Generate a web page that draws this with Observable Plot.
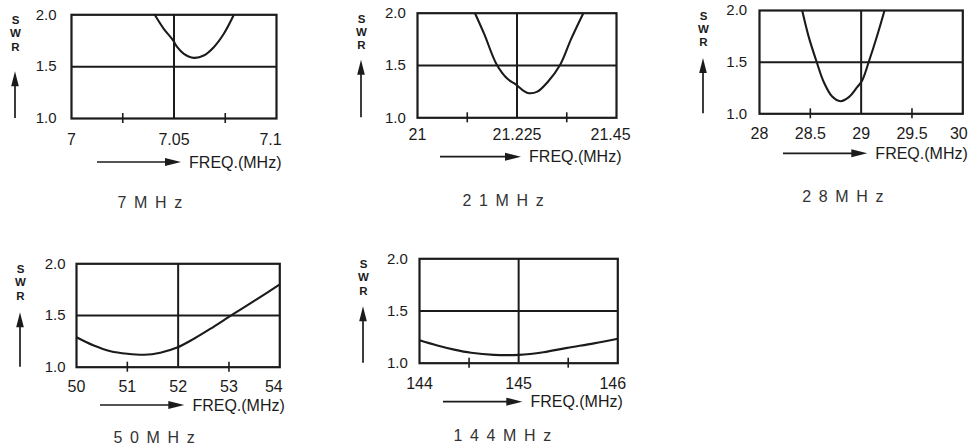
<!DOCTYPE html>
<html><head><meta charset="utf-8">
<script src="https://cdn.jsdelivr.net/npm/d3@7"></script>
<script src="https://cdn.jsdelivr.net/npm/@observablehq/plot@0.6"></script>
<style>
html,body{margin:0;padding:0;background:#fff;}
#chart{position:relative;width:970px;height:446px;overflow:hidden;background:#fff;}
#chart > div{position:absolute;}
#chart svg{overflow:visible;}
</style></head><body><div id="chart"></div>
<script>
// ---------- data ----------
const bandTitles = ["7 M H z", "2 1 M H z", "2 8 M H z", "5 0 M H z", "1 4 4 M H z"];
const swrTicks = [1.0, 1.5, 2.0];
const swrLimit = [1.5];
const swrAxisLabel = "S\nW\nR";
const freqAxisLabel = "FREQ.(MHz)";

const freqLabels7 = [7, 7.05, 7.1];
const minorTicks7 = [7.025, 7.075];
const centre7 = [7.05];
const freq7 = [7.0406, 7.045, 7.0494, 7.0516, 7.0548, 7.0597, 7.0645, 7.0694, 7.0743, 7.0792];
const swr7  = [2.0, 1.865, 1.759, 1.688, 1.624, 1.585, 1.607, 1.688, 1.817, 2.0];

const freqLabels21 = [21, 21.225, 21.45];
const minorTicks21 = [21.1125, 21.3375];
const centre21 = [21.225];
const freq21 = [21.130, 21.151, 21.179, 21.204, 21.222, 21.241, 21.252, 21.271, 21.294, 21.323, 21.347, 21.375];
const swr21  = [2.0, 1.80, 1.51, 1.37, 1.32, 1.255, 1.235, 1.25, 1.34, 1.51, 1.75, 2.0];

const freqLabels28 = [28, 28.5, 29, 29.5, 30];
const minorTicks28 = [28.5, 29.5];
const centre28 = [29];
const freq28 = [28.42, 28.485, 28.561, 28.633, 28.715, 28.797, 28.879, 28.961, 29.01, 29.076, 29.158, 29.23];
const swr28  = [2.0, 1.742, 1.506, 1.306, 1.167, 1.122, 1.161, 1.258, 1.322, 1.506, 1.758, 2.0];

const freqLabels50 = [50, 51, 52, 53, 54];
const minorTicks50 = [51, 53];
const centre50 = [52];
const freq50 = [50, 50.34, 50.67, 51.0, 51.33, 51.65, 51.98, 52.31, 52.63, 53.09, 53.56, 54];
const swr50  = [1.29, 1.21, 1.155, 1.13, 1.12, 1.14, 1.19, 1.275, 1.37, 1.515, 1.66, 1.80];

const freqLabels144 = [144, 145, 146];
const minorTicks144 = [144.5, 145.5];
const centre144 = [145];
const freq144 = [144, 144.18, 144.35, 144.52, 144.75, 145, 145.25, 145.49, 145.76, 146];
const swr144  = [1.22, 1.17, 1.13, 1.10, 1.08, 1.08, 1.105, 1.147, 1.19, 1.234];

// ---------- layout / style ----------
const INK = "#1b1b1b";
const FONT = "'Liberation Sans', Arial, Helvetica, sans-serif";
const layout = [
  {left:0,     top:0,   w:301,   h:225, ml:71, mr:25,  mt:14.3, mb:107,   xPad:15, yPad:15,   endDx:-6, vTip:57, hy:44,   hStart:26, tdx:46,   tdy:84},
  {left:345.7, top:0,   w:295,   h:225, ml:71, mr:25,  mt:12.7, mb:107.7, xPad:11, yPad:11.7, endDx:-6, vTip:47, hy:39.4, hStart:23, tdx:45,   tdy:82.7},
  {left:688,   top:0,   w:282,   h:225, ml:71, mr:7.7, mt:10,   mb:111.7, xPad:14, yPad:12.3, endDx:-4, vTip:48, hy:40,   hStart:24, tdx:42.7, tdy:83.4},
  {left:5,     top:225, w:299.3, h:221, ml:71, mr:25,  mt:38.3, mb:79.3,  xPad:13, yPad:11,   endDx:-6, vTip:49, hy:38.3, hStart:24, tdx:37,   tdy:70.5},
  {left:348,   top:225, w:294.3, h:221, ml:71, mr:25,  mt:33.3, mb:83.3,  xPad:14, yPad:11.7, endDx:-5, vTip:48, hy:39,   hStart:24, tdx:34,   tdy:72.5}
];
const bands = [
  {labels: freqLabels7,   minor: minorTicks7,   centre: centre7,   freq: freq7,   swr: swr7},
  {labels: freqLabels21,  minor: minorTicks21,  centre: centre21,  freq: freq21,  swr: swr21},
  {labels: freqLabels28,  minor: minorTicks28,  centre: centre28,  freq: freq28,  swr: swr28},
  {labels: freqLabels50,  minor: minorTicks50,  centre: centre50,  freq: freq50,  swr: swr50},
  {labels: freqLabels144, minor: minorTicks144, centre: centre144, freq: freq144, swr: swr144}
];

// decorative arrows drawn relative to the frame
function arrows(L) {
  return (index, scales, values, dims) => {
    const g = d3.create("svg:g").attr("fill", INK).attr("stroke", INK);
    const Lx = dims.marginLeft, T = dims.marginTop;
    const B = dims.height - dims.marginBottom, R = dims.width - dims.marginRight;
    const vx = Lx - 56, tip = T + L.vTip;
    g.append("line").attr("x1", vx).attr("x2", vx).attr("y1", B).attr("y2", tip + 8).attr("stroke-width", 1.7);
    g.append("path").attr("stroke", "none")
      .attr("d", `M${vx},${tip}L${vx - 3.8},${tip + 15}L${vx + 3.8},${tip + 15}Z`);
    const hy = B + L.hy, htip = R - 95;
    g.append("line").attr("x1", Lx + L.hStart).attr("x2", htip - 8).attr("y1", hy).attr("y2", hy).attr("stroke-width", 1.7);
    g.append("path").attr("stroke", "none")
      .attr("d", `M${htip},${hy}L${htip - 16},${hy - 4}L${htip - 16},${hy + 4}Z`);
    return g.node();
  };
}

const chart = document.getElementById("chart");
bands.forEach((b, i) => {
  const L = layout[i];
  const frameH = L.h - L.mt - L.mb;
  const pts = b.freq.map((f, j) => ({f, s: b.swr[j]}));
  const inner = b.labels.slice(0, -1);
  const last = b.labels.slice(-1);
  const plot = Plot.plot({
    width: L.w, height: L.h,
    marginLeft: L.ml, marginRight: L.mr, marginTop: L.mt, marginBottom: L.mb,
    style: {fontFamily: FONT, fontSize: "16px", color: INK, background: "transparent", overflow: "visible"},
    x: {domain: [b.labels[0], b.labels[b.labels.length - 1]]},
    y: {domain: [1, 2]},
    marks: [
      Plot.axisX(inner, {tickSize: 0, tickPadding: L.xPad, tickFormat: d => String(d), label: null, fontSize: 16, fill: INK}),
      Plot.axisX(last, {tickSize: 0, tickPadding: L.xPad, tickFormat: d => String(d), label: null, fontSize: 16, fill: INK, dx: L.endDx}),
      Plot.axisY(swrTicks, {tickSize: 0, tickPadding: L.yPad, tickFormat: d3.format(".1f"), label: null, fontSize: 15, fill: INK}),
      Plot.ruleY(swrLimit, {y: d => d, stroke: INK, strokeWidth: 2}),
      Plot.ruleX(b.centre, {x: d => d, stroke: INK, strokeWidth: 2}),
      Plot.ruleX(b.minor, {x: d => d, stroke: INK, strokeWidth: 1.6, insetTop: frameH - 5, insetBottom: -5}),
      Plot.line(pts, {x: "f", y: "s", curve: "catmull-rom", stroke: INK, strokeWidth: 2.1, clip: true}),
      Plot.frame({stroke: INK, strokeWidth: 2.2}),
      Plot.text([swrAxisLabel], {text: d => d, frameAnchor: "top-left", dx: -56, dy: 0, lineAnchor: "top", lineHeight: 1.15, fontSize: 11.5, textAnchor: "middle", fill: INK, fontWeight: "bold"}),
      Plot.text([freqAxisLabel], {text: d => d, frameAnchor: "bottom-right", dx: 5, dy: L.hy, textAnchor: "end", lineAnchor: "middle", fontSize: 16, fill: INK}),
      Plot.text([bandTitles[i]], {text: d => d, frameAnchor: "bottom-left", dx: L.tdx, dy: L.tdy, textAnchor: "start", lineAnchor: "middle", fontSize: 16, fill: "#333"}),
      arrows(L)
    ]
  });
  plot.querySelectorAll("text").forEach(t => {
    if (t.textContent === bandTitles[i]) t.setAttribute("letter-spacing", "1.6");
  });
  const wrap = document.createElement("div");
  wrap.style.left = L.left + "px";
  wrap.style.top = L.top + "px";
  wrap.appendChild(plot);
  chart.appendChild(wrap);
});
</script></body></html>
